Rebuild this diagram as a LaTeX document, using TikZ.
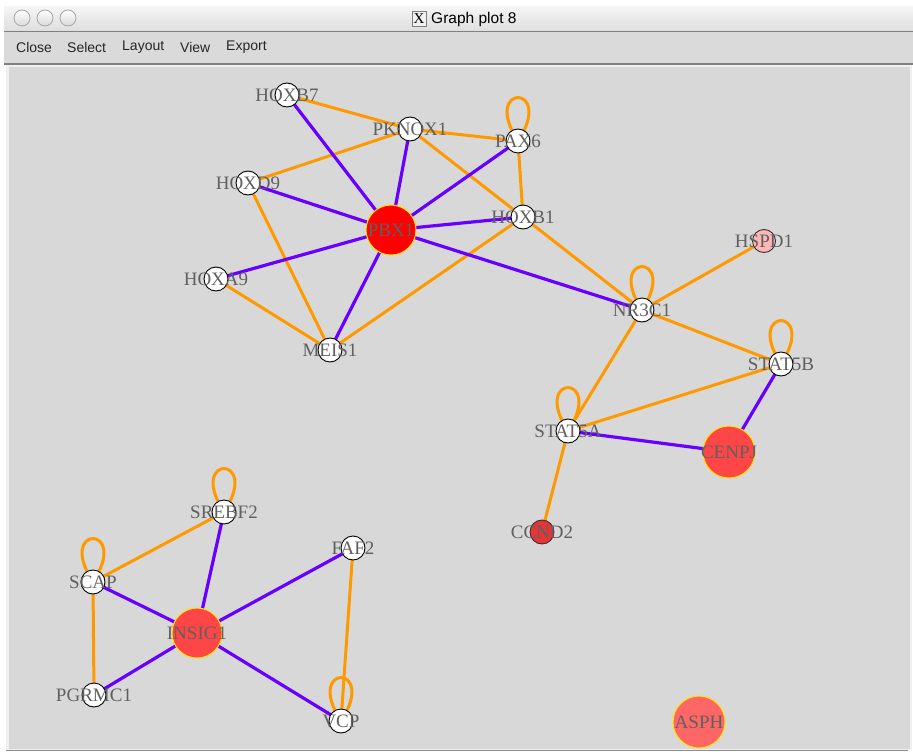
\documentclass[tikz,border=0pt]{standalone}
\usepackage{fontspec}
\setmainfont{Liberation Serif}
\newfontfamily\uifont{Liberation Sans}
\pgfdeclarelayer{back}
\pgfdeclarelayer{edges}
\pgfsetlayers{back,edges,main}
\definecolor{purp}{RGB}{104,0,255}
\definecolor{orng}{RGB}{255,153,0}
\definecolor{lblgray}{RGB}{96,96,96}
\definecolor{canvas}{RGB}{216,216,216}
\definecolor{menubg}{RGB}{218,218,218}
\definecolor{redA}{RGB}{255,0,0}
\definecolor{redB}{RGB}{255,70,70}
\definecolor{redC}{RGB}{232,52,52}
\definecolor{redD}{RGB}{255,102,102}
\definecolor{pinkA}{RGB}{255,182,182}
\definecolor{ringY}{RGB}{255,230,0}
\tikzset{
  wnode/.style={circle,draw=black,line width=0.9pt,fill=white,minimum size=24pt,inner sep=0pt},
  bignode/.style={circle,draw=ringY,line width=1pt,inner sep=0pt,minimum size=#1},
  lbl/.style={font=\fontsize{19}{19}\selectfont,text=lblgray,inner sep=0pt,anchor=center},
  pedge/.style={draw=purp,line width=3.2pt},
  oedge/.style={draw=orng,line width=3pt},
  menu/.style={font=\uifont\fontsize{14}{14}\selectfont,text=black!85,inner sep=0pt,anchor=west},
  winbtn/.style={circle,draw=black!35,line width=0.8pt,inner sep=0pt,minimum size=16pt,top color=white,bottom color=black!15}
}
\begin{document}
\begin{tikzpicture}[x=1pt,y=-1pt]
\useasboundingbox (0,0) rectangle (913,752);
\begin{pgfonlayer}{back}
\fill[white] (0,0) rectangle (913,752);
\shade[top color=black!4,bottom color=black!13] (4,7) rectangle (913,31);
\fill[menubg] (4,32) rectangle (913,63);
\draw[black!50,line width=1.2pt] (4,31.5) -- (913,31.5);
\draw[black!50,line width=1.5pt] (4,64) -- (913,64);
\fill[black!6] (6,65) rectangle (912,750);
\fill[canvas] (9,67) rectangle (910,749);
\draw[black!45,line width=1.2pt] (6,750.5) -- (908,750.5);
\end{pgfonlayer}
% window chrome
\node[winbtn] (b1) at (22,18) {};
\node[winbtn] (b2) at (45,18) {};
\node[winbtn] (b3) at (68,18) {};
\node[draw=black!50,fill=black!5,line width=0.6pt,minimum width=14pt,minimum height=15pt,inner sep=0pt,font=\fontsize{15}{15}\selectfont] (xicon) at (419,19) {X};
\node[font=\uifont\fontsize{15.5}{15.5}\selectfont,anchor=west,inner sep=0pt] (title) at (431,19) {Graph plot 8};
\node[menu] (mclose) at (16,47) {Close};
\node[menu] (mselect) at (67,47) {Select};
\node[menu] (mlayout) at (122,47) {Layout};
\node[menu] (mview) at (180,47) {View};
\node[menu] (mexport) at (226,47) {Export};
% nodes
\node[wnode] (hoxb7) at (287,95) {};
\node[wnode] (pknox1) at (410,129) {};
\node[wnode] (pax6) at (518,141) {};
\node[wnode] (hoxd9) at (248,183) {};
\node[bignode=50pt,fill=redA] (pbx1) at (391,230) {};
\node[wnode] (hoxb1) at (523,217) {};
\node[wnode] (hoxa9) at (216,279) {};
\node[wnode] (meis1) at (330,350) {};
\node[circle,draw=black!80,line width=0.9pt,fill=pinkA,minimum size=23pt,inner sep=0pt] (hspd1) at (764,241) {};
\node[wnode] (nr3c1) at (642,310) {};
\node[wnode] (stat5b) at (781,364) {};
\node[wnode] (stat5a) at (568,431) {};
\node[bignode=52pt,fill=redB] (cenpj) at (729,452) {};
\node[circle,draw=black!80,line width=0.9pt,fill=redC,minimum size=24pt,inner sep=0pt] (ccnd2) at (542,532) {};
\node[wnode] (srebf2) at (224,512) {};
\node[wnode] (faf2) at (353,548) {};
\node[wnode] (scap) at (93,582) {};
\node[bignode=50pt,fill=redB] (insig1) at (197,633) {};
\node[wnode] (pgrmc1) at (94,695) {};
\node[wnode] (vcp) at (341,721) {};
\node[bignode=52pt,fill=redD] (asph) at (699,722) {};
% edges
\begin{pgfonlayer}{edges}
\foreach \a/\b in {hoxb7/pknox1,pknox1/pax6,pknox1/hoxd9,pknox1/hoxb1,pax6/hoxb1,hoxd9/meis1,hoxa9/meis1,meis1/hoxb1,hoxb1/nr3c1,nr3c1/hspd1,nr3c1/stat5b,nr3c1/stat5a,stat5a/stat5b,stat5a/ccnd2,srebf2/scap,scap/pgrmc1,faf2/vcp}
  \draw[oedge] (\a.center) -- (\b.center);
\foreach \a/\b in {hoxb7/pbx1,pknox1/pbx1,pax6/pbx1,hoxd9/pbx1,hoxb1/pbx1,hoxa9/pbx1,meis1/pbx1,pbx1/nr3c1,stat5a/cenpj,cenpj/stat5b,srebf2/insig1,scap/insig1,faf2/insig1,pgrmc1/insig1,vcp/insig1}
  \draw[pedge] (\a.center) -- (\b.center);
\foreach \n in {pax6,nr3c1,stat5b,stat5a,srebf2,scap,vcp}
  \draw[oedge] (\n.center) .. controls +(-38,-58) and +(38,-58) .. (\n.center);
\end{pgfonlayer}
% labels
\node[lbl] (lhoxb7) at (hoxb7) {HOXB7};
\node[lbl] (lpknox1) at (pknox1) {PKNOX1};
\node[lbl] (lpax6) at (pax6) {PAX6};
\node[lbl] (lhoxd9) at (hoxd9) {HOXD9};
\node[lbl] (lpbx1) at (pbx1) {PBX1};
\node[lbl] (lhoxb1) at (hoxb1) {HOXB1};
\node[lbl] (lhoxa9) at (hoxa9) {HOXA9};
\node[lbl] (lmeis1) at (meis1) {MEIS1};
\node[lbl] (lhspd1) at (hspd1) {HSPD1};
\node[lbl] (lnr3c1) at (nr3c1) {NR3C1};
\node[lbl] (lstat5b) at (stat5b) {STAT5B};
\node[lbl] (lstat5a) at (stat5a) {STAT5A};
\node[lbl] (lcenpj) at (cenpj) {CENPJ};
\node[lbl] (lccnd2) at (ccnd2) {CCND2};
\node[lbl] (lsrebf2) at (srebf2) {SREBF2};
\node[lbl] (lfaf2) at (faf2) {FAF2};
\node[lbl] (lscap) at (scap) {SCAP};
\node[lbl] (linsig1) at (insig1) {INSIG1};
\node[lbl] (lpgrmc1) at (pgrmc1) {PGRMC1};
\node[lbl] (lvcp) at (vcp) {VCP};
\node[lbl] (lasph) at (asph) {ASPH};
\end{tikzpicture}
\end{document}
